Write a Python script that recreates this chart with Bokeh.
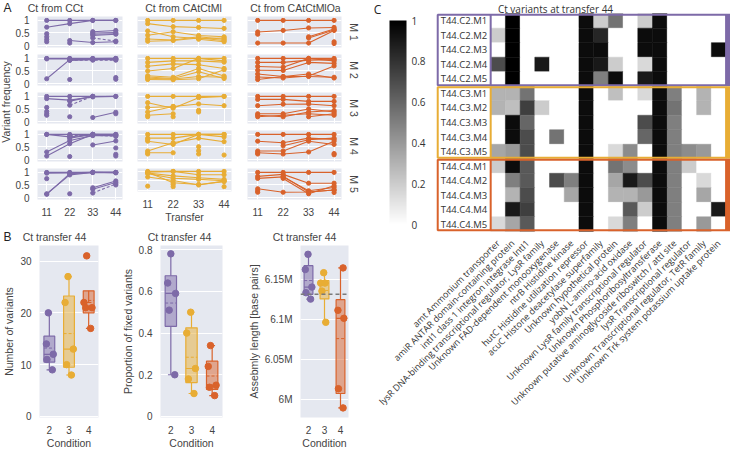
import math
import numpy as np
from bokeh.plotting import figure
from bokeh.layouts import row, column
from bokeh.models import (FixedTicker, LinearColorMapper, NumeralTickFormatter, Range1d, Span,
                          ColumnDataSource, AllLabels, ColorBar)
from bokeh.core.properties import value
from bokeh.embed import file_html
from bokeh.resources import INLINE

nan = float("nan")

# ------------------------------------------------------------------ data
TRANSFERS = [11, 22, 33, 44]
A_CONDITIONS = ["CCt", "CAtCtMl", "CAtCtMlOa"]
MUTANTS = ["M 1", "M 2", "M 3", "M 4", "M 5"]

# variant frequency trajectories (transfer 11, 22, 33, 44); nan = not detected
CCT_M1 = [[1, 1, 1, 1], [0.73, 0.87, 1, 1], [0.47, nan, nan, nan], [0.35, nan, nan, nan],
          [0.24, nan, nan, nan], [0.15, nan, nan, nan], [nan, 0.2, 0.12, 0.15], [nan, 0.1, nan, nan],
          [nan, nan, 0.55, 0.6], [nan, nan, 0.5, 0.52], [nan, nan, 0.45, 0.47], [nan, nan, 0.4, 0.45]]
CCT_M1_DASHED = [[nan, nan, 0.3, 0.18]]
CCT_M2 = [[1, 1, 1, 1], [0.19, 0.95, 0.97, 0.97], [nan, 0.92, 0.95, 0.95], [0.98, 0.98, 0.99, 1],
          [nan, 0.16, nan, nan], [nan, nan, nan, 0.24], [nan, nan, nan, 0.17]]
CCT_M2_DASHED = [[nan, 0.93, 0.93, 0.93]]
CCT_M3 = [[1, 1, 1, 1], [0.91, 0.85, 0.98, 1], [nan, 0.81, 1, nan], [0.56, nan, nan, nan],
          [0.4, nan, nan, nan], [0.31, nan, nan, nan], [0.25, nan, nan, nan], [nan, 0.19, nan, nan],
          [nan, nan, 0.16, 0.37], [nan, nan, nan, 0.31]]
CCT_M3_DASHED = [[nan, 0.65, 1, nan]]
CCT_M4 = [[1, 1, 1, 1], [1, 0.9, 1, 0.97], [nan, 0.85, 1, 1], [0.3, 0.76, 0.95, 0.95],
          [0.14, 0.63, 1, nan], [nan, nan, 0.58, 0.74], [nan, 0.12, nan, nan],
          [nan, nan, nan, 0.46], [nan, nan, nan, 0.21], [nan, nan, nan, 0.14]]
CCT_M4_DASHED = [[nan, 0.95, 0.97, 0.92]]
CCT_M5 = [[1, 1, 1, 1], [0.97, 0.98, 1, 1], [0.15, 0.9, 1, 1], [0.13, 0.95, 1, 0.98],
          [0.75, nan, nan, nan], [nan, 0.15, nan, nan], [nan, nan, 0.39, 0.66],
          [nan, nan, 0.33, 0.6], [nan, nan, nan, 0.5]]
CCT_M5_DASHED = [[nan, nan, 0.18, 0.54]]

CAT_M1 = [[1, 1, 1, 1], [0.87, 0.75, 0.72, 0.68], [0.58, 0.35, 0.28, 0.3], [0.41, 0.55, 0.4, 0.35],
          [0.26, 0.22, 0.35, 0.25], [0.17, 0.2, 0.3, 0.2], [nan, nan, 0.25, 0.15]]
CAT_M2 = [[1, 1, 1, 1], [0.84, 0.9, 0.9, 0.85], [0.69, 0.78, 0.75, 0.6], [0.5, 0.6, 1, 0.9],
          [0.31, 0.25, 0.6, 0.3], [0.26, 0.2, 0.47, 0.2], [0.21, 0.18, 0.28, 0.25], [0.16, 0.15, 0.19, 0.55]]
CAT_M3 = [[1, 1, 1, 1], [0.75, 0.53, 0.95, 1], [0.56, 0.6, 0.7, 0.63], [0.38, 0.6, nan, nan],
          [0.25, 0.31, nan, nan], [0.19, nan, nan, nan], [nan, 0.19, nan, nan],
          [nan, nan, 0.45, nan], [nan, nan, 0.38, nan]]
CAT_M4 = [[1, 1, 1, 1], [0.85, 0.85, 1, 0.9], [0.73, 0.6, 1, 1], [0.34, 0.67, 0.85, 0.71],
          [0.27, 0.27, nan, nan], [0.22, nan, nan, nan], [0.79, nan, nan, nan],
          [nan, nan, 0.51, nan], [nan, nan, 0.35, nan], [nan, nan, 0.22, nan], [nan, nan, nan, 0.18]]
CAT_M5 = [[1, 1, 1, 1], [0.96, 1, 0.82, 0.82], [0.91, 0.76, 0.66, 0.57], [0.88, 0.63, 0.57, 0.5],
          [0.7, 0.51, 0.27, 0.48], [0.95, 0.39, 0.3, 0.45], [0.21, nan, nan, nan],
          [nan, 0.18, nan, 0.18], [nan, 0.3, nan, nan]]

CATO_M1 = [[1, 1, 1, 1], [0.54, 0.6, 0.7, 0.72], [0.45, nan, nan, nan], [0.1, 0.1, 0.1, 0.6],
           [nan, nan, 0.35, 0.66], [nan, nan, 0.3, 0.62], [nan, nan, nan, 0.15], [nan, nan, nan, 0.08]]
CATO_M2 = [[1, 1, 1, 1], [0.84, 0.84, 0.93, 0.95], [0.68, 0.65, 1, 0.9], [0.53, 0.52, 0.84, 0.8],
           [0.38, 0.28, 0.38, 0.22], [0.26, 0.22, 0.3, 0.7], [0.16, 0.28, 0.28, 0.25]]
CATO_M3 = [[1, 1, 1, 1], [0.88, 0.88, 0.8, 0.8], [0.63, 0.69, 0.7, 0.63], [0.31, 0.31, 0.5, 0.38],
           [0.25, 0.19, 0.38, 0.44], [0.19, 0.25, 0.31, 0.25], [nan, nan, 0.19, 0.31]]
CATO_M4 = [[1, 1, 1, 1], [0.73, 0.67, 0.85, 0.8], [nan, 0.55, 0.79, 0.85], [0.34, 0.34, 0.73, 0.6],
           [0.27, 0.22, 0.3, 0.73], [0.22, nan, nan, nan], [nan, nan, nan, 0.24], [nan, nan, nan, 0.19]]
CATO_M5 = [[1, 1, 1, 1], [0.84, 0.92, 0.57, 0.57], [0.76, 0.82, 0.27, 0.4], [0.35, 0.21, 0.22, 0.3],
           [nan, 0.76, 0.15, 0.47], [nan, 0.85, 0.22, 0.3], [0.27, nan, nan, nan],
           [0.21, nan, nan, nan], [nan, nan, nan, 0.2]]

B_CONDITIONS = [2, 3, 4]
N_VARIANTS = [[20, 14, 11, 12, 9], [27, 22, 10, 13, 8], [31, 22, 21, 21, 17]]
FIXED_PROPORTION = [[0.78, 0.64, 0.59, 0.51, 0.2], [0.5, 0.4, 0.23, 0.18, 0.11],
                    [0.34, 0.24, 0.15, 0.14, 0.1]]
ASSEMBLY_LENGTH = [[6181000, 6162000, 6140000, 6133000, 6125000],
                   [6158000, 6145000, 6145000, 6135000, 6096000],
                   [6164000, 6111000, 6101000, 6013000, 5989000]]
REFERENCE_LENGTH = 6131000

C_SAMPLES = ["T44.C2.M1", "T44.C2.M2", "T44.C2.M3", "T44.C2.M4", "T44.C2.M5",
             "T44.C3.M1", "T44.C3.M2", "T44.C3.M3", "T44.C3.M4", "T44.C3.M5",
             "T44.C4.M1", "T44.C4.M2", "T44.C4.M3", "T44.C4.M4", "T44.C4.M5"]
C_VARIANTS = ["amt Ammonium transporter",
              "amiR ANTAR domain-containing protein",
              "intI1 class 1 integron integrase IntI1",
              "lysR DNA-binding transcriptional regulator, LysR family",
              "Unknown FAD-dependent monooxygenase",
              "ntrB Histidine kinase",
              "hutC Histidine utilization repressor",
              "acuC Histone deacetylase superfamily",
              "Unknown hypothetical protein",
              "yobN L-amino-acid oxidase",
              "Unknown LysR family transcriptional regulator",
              "Unknown Phosphoribosyltransferase",
              "Unknown putative aminoglycoside riboswitch / attI site",
              "lysR Transcriptional regulator",
              "Unknown Transcriptional regulator, TetR family",
              "Unknown Trk system potassium uptake protein"]
C2_FREQ = [[0, 1, 0, 0, 0, 0, 0.95, 0.2, 0.55, 0, 0.2, 0.95, 0, 0, 0, 0],
           [0.2, 1, 0, 0, 0, 0, 0.95, 0.85, 0, 0, 0.95, 0.95, 0, 0, 0, 0],
           [0, 1, 0, 0, 0, 0, 0.95, 0.95, 0, 0, 0.95, 0.95, 0, 0, 0, 0.95],
           [0.7, 1, 0, 0.9, 0, 0, 0.95, 0.9, 0.2, 0, 0.15, 0.95, 0, 0, 0, 0],
           [0, 1, 0, 0, 0, 0, 0.95, 0.5, 0.95, 0, 0.9, 0.95, 0, 0, 0, 0]]
C3_FREQ = [[0.3, 0.3, 0.55, 0, 0, 0, 0.95, 0, 0.25, 0, 0.15, 0.95, 0.5, 0, 0.3, 0],
           [0.3, 0.25, 0.75, 0.2, 0, 0, 0.95, 0, 0, 0, 0, 0.95, 0.55, 0, 0.3, 0],
           [0, 0.95, 0.6, 0, 0, 0, 0.95, 0, 0, 0, 0.7, 0.95, 0.5, 0, 0, 0],
           [0, 0.95, 0.7, 0, 0.55, 0, 0.95, 0, 0, 0, 0.6, 0.95, 0.5, 0, 0, 0],
           [0.35, 0.4, 0.7, 0, 0, 0, 0.95, 0, 0.15, 0.45, 0, 0.95, 0.5, 0.45, 0.4, 0]]
C4_FREQ = [[0.2, 0.95, 0.65, 0, 0, 0, 0.95, 0, 0.55, 0.45, 0, 0.95, 0.5, 0.2, 0, 0],
           [0, 0.5, 0.65, 0, 0.7, 0.5, 0.95, 0, 0.35, 0.9, 0.7, 0.95, 0.5, 0, 0.15, 0],
           [0, 0.3, 0.7, 0, 0, 0.35, 0.95, 0, 0.3, 0.3, 0.4, 0.95, 0.5, 0, 0.35, 0],
           [0, 0.9, 0.75, 0, 0, 0, 0.95, 0, 0, 0.65, 0.2, 0.95, 0.5, 0, 0, 0.9],
           [0.15, 0.35, 0.65, 0, 0, 0, 0.95, 0, 0.15, 0.5, 0, 0.95, 0.5, 0, 0.4, 0]]

# ------------------------------------------------------------------ style / layout
FONT_AB = "Liberation Sans"
FONT_C = "Open Sans"
TXT = "#444444"
BG = "#e5e8f0"
COLORS = ["#7d6aa8", "#e8ad35", "#d9622b"]
GREY_RAMP = ["#%02x%02x%02x" % (v, v, v) for v in range(255, -1, -1)]

# point jitter (horizontal placement inside the boxes)
JIT_N = [[-0.05, -0.15, -0.12, 0.2, 0.15], [-0.05, -0.2, -0.12, 0.22, 0.12], [-0.1, -0.24, -0.15, 0.17, 0.1]]
JIT_P = [[0.0, -0.15, 0.23, -0.08, 0.19], [-0.04, -0.23, 0.19, -0.15, 0.12], [-0.08, -0.19, 0.19, -0.13, 0.12]]
JIT_L = [[-0.03, -0.2, 0.21, -0.16, 0.13], [-0.05, -0.24, 0.03, -0.16, 0.08], [0.16, -0.16, 0.21, -0.13, 0.16]]

A_SOLID = [[CCT_M1, CCT_M2, CCT_M3, CCT_M4, CCT_M5],
           [CAT_M1, CAT_M2, CAT_M3, CAT_M4, CAT_M5],
           [CATO_M1, CATO_M2, CATO_M3, CATO_M4, CATO_M5]]
A_DASHED = [[CCT_M1_DASHED, CCT_M2_DASHED, CCT_M3_DASHED, CCT_M4_DASHED, CCT_M5_DASHED],
            [[], [], [], [], []], [[], [], [], [], []]]

A_HEAD_H = 14
COL_W = [118, 114, 101]
COL_L = [16, 7, 3]
COL_R = [8, 13, 4]
ROW_H = [38, 38, 38, 38, 59]
ROW_T = [2, 2, 2, 2, 2]
ROW_B = [5, 5, 5, 5, 26]
A_GRID_H = sum(ROW_H)


def style_axis(ax, font, size="10px", label_size="10.5px"):
    ax.axis_line_color = None
    ax.major_tick_line_color = None
    ax.minor_tick_line_color = None
    ax.major_label_text_font = font
    ax.major_label_text_font_size = size
    ax.major_label_text_color = TXT
    ax.axis_label_text_font = font
    ax.axis_label_text_font_size = label_size
    ax.axis_label_text_font_style = "normal"
    ax.axis_label_text_color = TXT
    ax.major_label_standoff = 2
    ax.axis_label_standoff = 2
    ax.major_label_policy = AllLabels()


def text_fig(width, height):
    f = figure(width=width, height=height, x_range=Range1d(0, width), y_range=Range1d(0, height),
               x_axis_location=None, y_axis_location=None, min_border=0,
               outline_line_color=None, output_backend="svg", toolbar_location=None)
    f.grid.visible = False
    return f


def put(f, x, y, text, size="10.5px", font=FONT_AB, angle=0.0, color=TXT):
    f.text(x=[x], y=[y], text=[text], angle=angle, text_align="center", text_baseline="middle",
           text_font=value(font), text_font_size=size, text_color=color)


# ------------------------------------------------------------------ panel A
a_cols = []
for ci in range(3):
    col_figs = []
    for mi in range(5):
        p = figure(width=COL_W[ci], height=ROW_H[mi],
                   x_range=Range1d(6.6, 47.2), y_range=Range1d(-0.077, 1.154),
                   output_backend="svg", toolbar_location=None,
                   x_axis_location="below" if mi == 4 else None,
                   y_axis_location="left" if ci == 0 else None,
                   min_border=0, min_border_left=COL_L[ci], min_border_right=COL_R[ci],
                   min_border_top=ROW_T[mi], min_border_bottom=ROW_B[mi],
                   background_fill_color=BG, border_fill_color="white", outline_line_color=None)
        for g in p.xgrid:
            g.ticker = FixedTicker(ticks=TRANSFERS)
        for g in p.ygrid:
            g.ticker = FixedTicker(ticks=[0, 0.5, 1])
        p.grid.grid_line_color = "white"
        p.grid.grid_line_width = 1
        if ci == 0:
            ax = p.yaxis[0]
            style_axis(ax, FONT_AB)
            ax.ticker = FixedTicker(ticks=[0, 0.5, 1])
            ax.formatter = NumeralTickFormatter(format="0.[0]")
        if mi == 4:
            ax = p.xaxis[0]
            style_axis(ax, FONT_AB)
            ax.ticker = FixedTicker(ticks=TRANSFERS)
            ax.axis_label_standoff = 0
            if ci == 1:
                ax.axis_label = "Transfer"
        color = COLORS[ci]
        solid = A_SOLID[ci][mi]
        dashed = A_DASHED[ci][mi]
        p.multi_line(xs=[list(TRANSFERS) for _ in solid],
                     ys=[np.array(t, dtype=float) for t in solid],
                     line_color=color, line_width=1.1)
        if dashed:
            p.multi_line(xs=[list(TRANSFERS) for _ in dashed],
                         ys=[np.array(t, dtype=float) for t in dashed],
                         line_color=color, line_width=1.1, line_dash="3 2")
        px, py = [], []
        for t in solid + dashed:
            for x, y in zip(TRANSFERS, t):
                if not math.isnan(y):
                    px.append(x)
                    py.append(y)
        p.scatter(px, py, size=4.2, color=color)
        col_figs.append(p)
    a_cols.append(column(*col_figs, spacing=0))

a_head = text_fig(368, A_HEAD_H)
put(a_head, 7, 7, "A", size="12px", color="#222222")
for ci, xc in enumerate([55, 183, 295]):
    put(a_head, xc, 7, "Ct from " + A_CONDITIONS[ci])

ylab = text_fig(12, A_GRID_H)
put(ylab, 5, A_GRID_H - (101.4 - A_HEAD_H), "Variant frequency", angle=math.pi / 2)

mlab = text_fig(23, A_GRID_H)
tops = np.cumsum([0] + ROW_H[:-1])
for mi in range(5):
    yc = tops[mi] + ROW_T[mi] + 15.5
    put(mlab, 8, A_GRID_H - yc, MUTANTS[mi], angle=-math.pi / 2)

# ------------------------------------------------------------------ panel B


def b_panel(width, left, right, yrange, values, jitter, ylabel, yticks,
            formatter=None, overrides=None, ref=None):
    p = figure(width=width, height=206, x_range=Range1d(1.5, 4.5), y_range=Range1d(*yrange),
               output_backend="svg", toolbar_location=None, min_border=0,
               min_border_left=left, min_border_right=right, min_border_top=0,
               min_border_bottom=28, background_fill_color=BG, border_fill_color="white",
               outline_line_color=None)
    p.xgrid.visible = False
    p.ygrid.grid_line_color = "white"
    p.ygrid.grid_line_width = 1
    p.ygrid.ticker = FixedTicker(ticks=yticks)
    xa, ya = p.xaxis[0], p.yaxis[0]
    style_axis(xa, FONT_AB)
    style_axis(ya, FONT_AB)
    xa.ticker = FixedTicker(ticks=B_CONDITIONS)
    xa.axis_label = "Condition"
    xa.axis_label_standoff = 0
    ya.ticker = FixedTicker(ticks=yticks)
    ya.axis_label = ylabel
    if formatter is not None:
        ya.formatter = formatter
    if overrides is not None:
        ya.major_label_overrides = overrides
    if ref is not None:
        p.add_layout(Span(location=ref, dimension="width", line_color="#7a7a7a",
                          line_dash="4 3", line_width=1.6))
    hw, cw = 0.275, 0.14
    for k, c in enumerate(B_CONDITIONS):
        vals = np.array(values[k], dtype=float)
        col = COLORS[k]
        q1 = np.percentile(vals, 25, method="hazen")
        q3 = np.percentile(vals, 75, method="hazen")
        med = np.median(vals)
        mean = vals.mean()
        iqr = q3 - q1
        hi = vals[vals <= q3 + 1.5 * iqr].max()
        lo = vals[vals >= q1 - 1.5 * iqr].min()
        p.segment(x0=[c, c], y0=[q3, q1], x1=[c, c], y1=[hi, lo], line_color=col, line_width=1.2)
        p.segment(x0=[c - cw, c - cw], y0=[hi, lo], x1=[c + cw, c + cw], y1=[hi, lo],
                  line_color=col, line_width=1.2)
        p.quad(left=[c - hw], right=[c + hw], bottom=[q1], top=[q3], fill_color=col,
               fill_alpha=0.5, line_color=col, line_width=1.2)
        p.segment(x0=[c - hw], y0=[med], x1=[c + hw], y1=[med], line_color=col, line_width=1.2)
        p.segment(x0=[c - hw], y0=[mean], x1=[c + hw], y1=[mean], line_color=col,
                  line_width=1.0, line_dash="3 2")
        p.scatter([c + j for j in jitter[k]], list(vals), size=6.5, color=col)
    return p


b1 = b_panel(118, 27, 20, (-0.2, 33), N_VARIANTS, JIT_N, "Number of variants", [0, 10, 20, 30])
b2 = b_panel(126, 31, 22, (-0.005, 0.82), FIXED_PROPORTION, JIT_P,
             "Proportion of fixed variants", [0, 0.2, 0.4, 0.6, 0.8],
             formatter=NumeralTickFormatter(format="0.[0]"))
b3 = b_panel(124, 44, 20, (5977000, 6192000), ASSEMBLY_LENGTH, JIT_L,
             "Assebmly length [base pairs]", [6000000, 6050000, 6100000, 6150000],
             overrides={6000000: "6M", 6050000: "6.05M", 6100000: "6.1M", 6150000: "6.15M"},
             ref=REFERENCE_LENGTH)

b_head = text_fig(368, 20)
put(b_head, 7, 9, "B", size="12px", color="#222222")
for xc in [54, 179, 304]:
    put(b_head, xc, 9, "Ct transfer 44")

# ------------------------------------------------------------------ panel C
C_H = 451
ROW_PX = 14.51
Y_TOP = 15.08 + 12 / ROW_PX
X_LEFT = -8.305
COL_PX = 14.713
mapper = LinearColorMapper(palette=GREY_RAMP, low=0, high=1)

pc = figure(width=362, height=C_H, x_range=Range1d(X_LEFT, 16.3), y_range=Range1d(-0.08, Y_TOP),
            output_backend="svg", toolbar_location=None, y_axis_location=None,
            min_border=0, min_border_left=0, min_border_right=0, min_border_top=0,
            min_border_bottom=219, outline_line_color=None, background_fill_color="white",
            border_fill_color="white")
pc.grid.visible = False
freq = C2_FREQ + C3_FREQ + C4_FREQ
n_rows = len(C_SAMPLES)
cx, cy, cv = [], [], []
for i, r in enumerate(freq):
    for j, v in enumerate(r):
        cx.append(j + 0.5)
        cy.append(n_rows - i - 0.5)
        cv.append(v)
src = ColumnDataSource(dict(x=cx, y=cy, v=cv))
pc.rect(x="x", y="y", width=1, height=1, source=src,
        fill_color={"field": "v", "transform": mapper},
        line_color={"field": "v", "transform": mapper}, line_width=0.5)
pc.text(x=[-1.82] * n_rows, y=[n_rows - i - 0.5 for i in range(n_rows)], text=C_SAMPLES,
        text_align="center", text_baseline="middle", text_font=value(FONT_C),
        text_font_size="9.5px", text_color="#333333")
for g in range(3):
    top = n_rows - 5 * g
    bot = n_rows - 5 * (g + 1)
    col = COLORS[g]
    pc.quad(left=[-3.6], right=[16], top=[top - 0.07], bottom=[bot + 0.07], fill_color=None,
            line_color=col, line_width=2)
    pc.segment(x0=[0], y0=[bot + 0.07], x1=[0], y1=[top - 0.07], line_color=col, line_width=2)
    pc.quad(left=[16], right=[16.3], top=[top], bottom=[bot], fill_color=col, line_color=None)

# panel letter and title (inside the extended frame)
pc.text(x=[X_LEFT + 9 / COL_PX], y=[Y_TOP - 9 / ROW_PX], text=["C"], text_align="center",
        text_baseline="middle", text_font=value(FONT_C), text_font_size="12px",
        text_color="#222222")
pc.text(x=[X_LEFT + 187 / COL_PX], y=[Y_TOP - 8 / ROW_PX], text=["Ct variants at transfer 44"],
        text_align="center", text_baseline="middle", text_font=value(FONT_C),
        text_font_size="10px", text_color="#333333")

ax = pc.xaxis[0]
ax.ticker = FixedTicker(ticks=[j + 0.5 for j in range(len(C_VARIANTS))])
ax.major_label_overrides = {j + 0.5: name for j, name in enumerate(C_VARIANTS)}
ax.major_label_orientation = math.pi / 4
ax.axis_line_color = None
ax.major_tick_line_color = None
ax.minor_tick_line_color = None
ax.major_label_text_font = FONT_C
ax.major_label_text_font_size = "9px"
ax.major_label_text_color = "#333333"
ax.major_label_standoff = 3
ax.major_label_policy = AllLabels()

cb = ColorBar(color_mapper=mapper, location=(21, 8), width=17, height=204, padding=0,
              ticker=FixedTicker(ticks=[0, 0.2, 0.4, 0.6, 0.8, 1]),
              formatter=NumeralTickFormatter(format="0.[0]"), label_standoff=5,
              major_tick_line_color=None, bar_line_color=None, border_line_color=None,
              background_fill_alpha=0, major_label_text_font=FONT_C,
              major_label_text_font_size="10px", major_label_text_color="#333333")
pc.add_layout(cb, "center")

# ------------------------------------------------------------------ layout
a_block = column(a_head, row(ylab, *a_cols, mlab, spacing=0), spacing=0)
b_block = column(b_head, row(b1, b2, b3, spacing=0), spacing=0)
left = column(a_block, b_block, spacing=0)
layout = row(left, pc, spacing=0)

open("out.html", "w").write(file_html(layout, INLINE, "Ct variants"))
